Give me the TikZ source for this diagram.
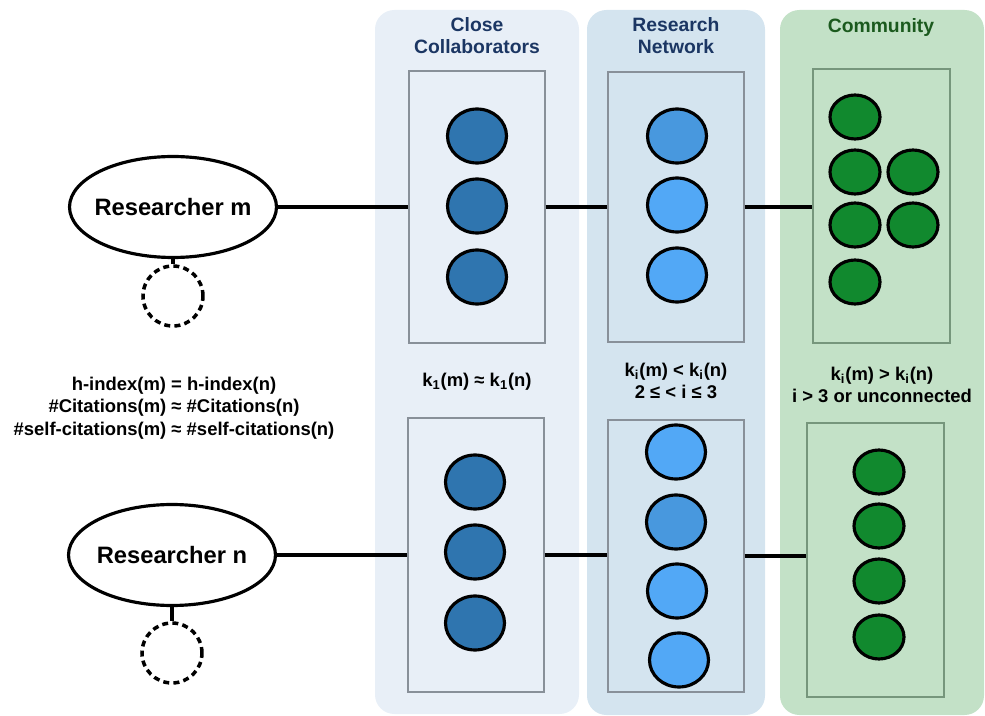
\documentclass[tikz,border=0pt]{standalone}
\usepackage{fontspec}
\setmainfont{Liberation Sans}
\usetikzlibrary{shapes.geometric}
\definecolor{collabbg}{RGB}{232,239,247}
\definecolor{netbg}{RGB}{212,228,239}
\definecolor{commbg}{RGB}{195,225,199}
\definecolor{boxgray}{RGB}{136,144,153}
\definecolor{boxgreen}{RGB}{118,150,124}
\definecolor{darkdot}{RGB}{47,117,175}
\definecolor{lightdot}{RGB}{82,168,246}
\definecolor{middot}{RGB}{72,152,222}
\definecolor{commdot}{RGB}{17,137,46}
\definecolor{navy}{RGB}{27,54,99}
\definecolor{darkgreen}{RGB}{27,90,30}
\begin{document}
\begin{tikzpicture}[x=0.02cm, y=-0.02cm,
  every node/.style={font=\fontsize{10.5}{12.8}\selectfont\bfseries, align=center},
  title/.style={font=\fontsize{11}{12.6}\selectfont\bfseries},
  grpbox/.style={draw=boxgray, line width=0.8pt, minimum width=27.2mm, minimum height=54.4mm, inner sep=0pt},
  person/.style={ellipse, draw, line width=1.8pt, fill=white, inner xsep=-4pt, inner ysep=0pt, minimum width=41.4mm, minimum height=20.2mm, font=\fontsize{13.5}{16}\selectfont\bfseries},
  selfnode/.style={circle, draw, line width=2pt, dash pattern=on 3.4pt off 2.4pt, fill=white, minimum size=12mm, inner sep=0pt},
  member/.style={ellipse, draw, line width=1.8pt, minimum width=11.8mm, minimum height=10.8mm, inner sep=0pt},
  cmember/.style={member, fill=commdot, minimum width=10mm, minimum height=8.8mm},
  link/.style={line width=2.1pt}]
\useasboundingbox (0,0) rectangle (985,716);
% background bands
\fill[collabbg, rounded corners=11pt] (375,10) rectangle (579,714);
\fill[netbg, rounded corners=11pt] (587,10) rectangle (765,715);
\fill[commbg, rounded corners=11pt] (780,10) rectangle (984,715);
\node[title, text=navy] (ttlcollab) at (477,36) {Close\\Collaborators};
\node[title, text=navy] (ttlnet) at (676,36) {Research\\Network};
\node[title, text=darkgreen] (ttlcomm) at (881,28) {Community};
% researchers
\node[person] (resm) at (173,207) {Researcher m};
\node[person] (resn) at (172,555) {Researcher n};
\node[selfnode] (selfm) at (173,296) {};
\node[selfnode] (selfn) at (172,653) {};
\draw[link] (resm) -- (selfm);
\draw[link] (resn) -- (selfn);
\node (metrics) at (174,408) {h-index(m) = h-index(n)\\\#Citations(m) ≈ \#Citations(n)\\\#self-citations(m) ≈ \#self-citations(n)};
% top row
\node[grpbox] (cm) at (477,207) {};
\node[grpbox, minimum height=54mm] (rm) at (676,207) {};
\node[grpbox, draw=boxgreen, minimum width=27.4mm, minimum height=54.8mm] (om) at (881.5,206) {};
\foreach \y [count=\i] in {136,206,277} \node[member, fill=darkdot] (cm\i) at (477,\y) {};
\node[member, fill=middot] (rm1) at (677,136) {};
\node[member, fill=lightdot] (rm2) at (677,205) {};
\node[member, fill=lightdot] (rm3) at (677,275) {};
\node[cmember] (om1) at (855,117) {};
\node[cmember] (om2) at (855,172) {};
\node[cmember] (om3) at (913,172) {};
\node[cmember] (om4) at (855,225) {};
\node[cmember] (om5) at (913,225) {};
\node[cmember] (om6) at (855,282) {};
\draw[link] (resm.east) -- (resm.east -| cm.west);
\draw[link] (cm.east) -- (cm.east -| rm.west);
\draw[link] (rm.east) -- (rm.east -| om.west);
% conditions
\node (condcollab) at (477,382) {k\textsubscript{1}(m) ≈ k\textsubscript{1}(n)};
\node (condnet) at (676,381) {k\textsubscript{i}(m) < k\textsubscript{i}(n)\\2 ≤ < i ≤ 3};
\node (condcomm) at (882,385) {k\textsubscript{i}(m) > k\textsubscript{i}(n)\\i > 3 or unconnected};
% bottom row
\node[grpbox, minimum height=54.8mm] (cn) at (476,555) {};
\node[grpbox] (rn) at (676,556) {};
\node[grpbox, draw=boxgreen, minimum width=27.4mm, minimum height=54.8mm] (on) at (875.5,560) {};
\foreach \y [count=\i] in {482,552,623} \node[member, fill=darkdot] (cn\i) at (475,\y) {};
\node[member, fill=lightdot] (rn1) at (676,452) {};
\node[member, fill=middot] (rn2) at (676,522) {};
\node[member, fill=lightdot] (rn3) at (677,591) {};
\node[member, fill=lightdot] (rn4) at (679,660) {};
\foreach \y [count=\i] in {472,526,581,637} \node[cmember] (on\i) at (879,\y) {};
\draw[link] (resn.east) -- (resn.east -| cn.west);
\draw[link] (cn.east) -- (cn.east -| rn.west);
\draw[link] (rn.east) -- (rn.east -| on.west);
\end{tikzpicture}
\end{document}
